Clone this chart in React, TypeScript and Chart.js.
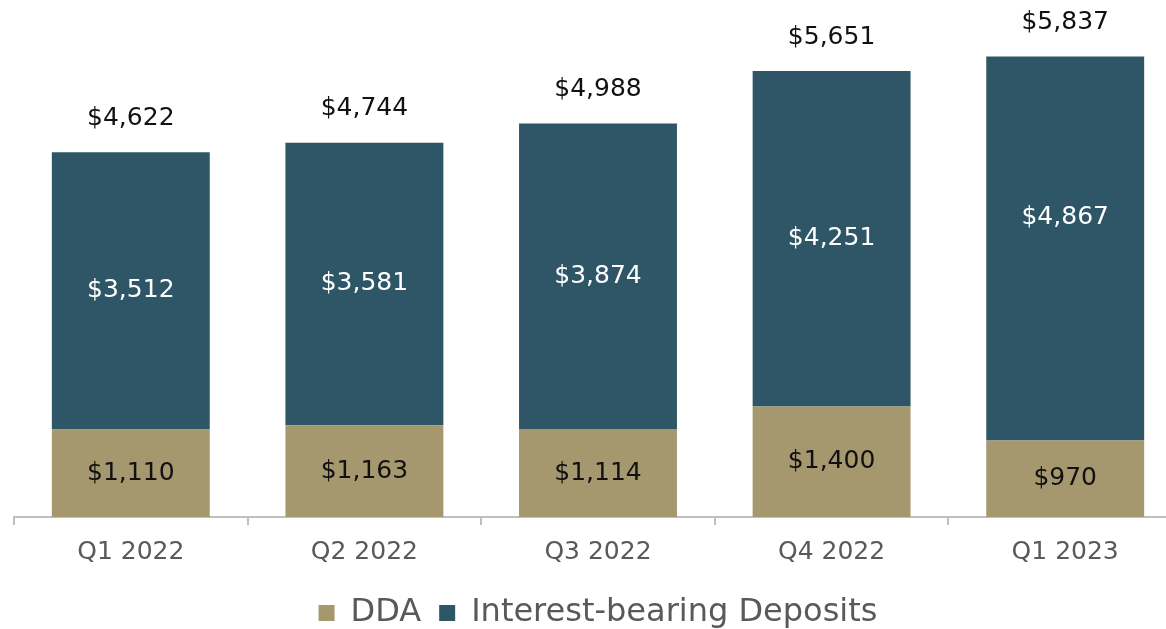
import React, { useEffect, useRef } from "react";
import { Chart, registerables } from "chart.js";

Chart.register(...registerables);

const categories = ["Q1 2022", "Q2 2022", "Q3 2022", "Q4 2022", "Q1 2023"];
const ddaValues = [1110, 1163, 1114, 1400, 970];
const interestValues = [3512, 3581, 3874, 4251, 4867];
const totalValues = [4622, 4744, 4988, 5651, 5837];
const seriesNames = ["DDA", "Interest-bearing Deposits"];
const seriesColors = ["#A5976E", "#2E5666"];

const FONT = "'DejaVu Sans', sans-serif";
const fmt = (v: number) => "$" + v.toLocaleString("en-US");

const labelPlugin = {
  id: "valueLabels",
  afterDatasetsDraw(chart: any) {
    const ctx = chart.ctx;
    ctx.save();
    ctx.font = `25px ${FONT}`;
    ctx.textAlign = "center";
    ctx.textBaseline = "middle";
    const n = chart.data.datasets.length;
    chart.data.datasets.forEach((ds: any, i: number) => {
      const meta = chart.getDatasetMeta(i);
      meta.data.forEach((bar: any, j: number) => {
        const { x, y, base } = bar.getProps(["x", "y", "base"], true);
        const h = base - y;
        // the top segment label of the last (tallest) bar sits a little higher in the original
        const shift = i === n - 1 && j === meta.data.length - 1 ? -h * 0.08 : 0;
        ctx.fillStyle = i === 0 ? "#111111" : "#ffffff";
        ctx.fillText(fmt(ds.data[j]), x, (y + base) / 2 + shift);
      });
    });
    const topMeta = chart.getDatasetMeta(n - 1);
    topMeta.data.forEach((bar: any, j: number) => {
      const { x, y } = bar.getProps(["x", "y"], true);
      ctx.fillStyle = "#111111";
      ctx.fillText(fmt(totalValues[j]), x, y - 34);
    });
    ctx.restore();
  },
};

export default function App() {
  const ref = useRef<HTMLCanvasElement>(null);
  useEffect(() => {
    if (!ref.current) return;
    const chart = new Chart(ref.current, {
      type: "bar",
      data: {
        labels: categories,
        datasets: [
          {
            label: seriesNames[0],
            data: ddaValues,
            backgroundColor: seriesColors[0],
            barPercentage: 0.676,
            categoryPercentage: 1,
          },
          {
            label: seriesNames[1],
            data: interestValues,
            backgroundColor: seriesColors[1],
            barPercentage: 0.676,
            categoryPercentage: 1,
          },
        ],
      },
      options: {
        responsive: false,
        animation: false,
        devicePixelRatio: 1,
        layout: { padding: { top: 12, left: 14, right: 1, bottom: 0 } },
        plugins: {
          tooltip: { enabled: false },
          legend: {
            position: "bottom",
            labels: {
              boxWidth: 16,
              boxHeight: 16,
              padding: 18,
              color: "#595959",
              font: { family: FONT, size: 32 },
            },
          },
        },
        scales: {
          x: {
            stacked: true,
            grid: {
              display: true,
              offset: true,
              drawOnChartArea: false,
              drawTicks: true,
              tickLength: 8,
              color: "#BFBFBF",
              lineWidth: 2,
            },
            border: { display: true, color: "#BFBFBF", width: 2 },
            ticks: {
              color: "#595959",
              font: { family: FONT, size: 25 },
              padding: 12,
            },
          },
          y: { stacked: true, display: false, min: 0, max: 6400 },
        },
      },
      plugins: [labelPlugin],
    });
    return () => chart.destroy();
  }, []);
  return (
    <div
      style={{
        position: "fixed",
        left: 0,
        top: 0,
        width: 1166,
        height: 629,
        overflow: "hidden",
        background: "#fff",
      }}
    >
      <canvas ref={ref} width={1183} height={639} style={{ display: "block" }} />
    </div>
  );
}
